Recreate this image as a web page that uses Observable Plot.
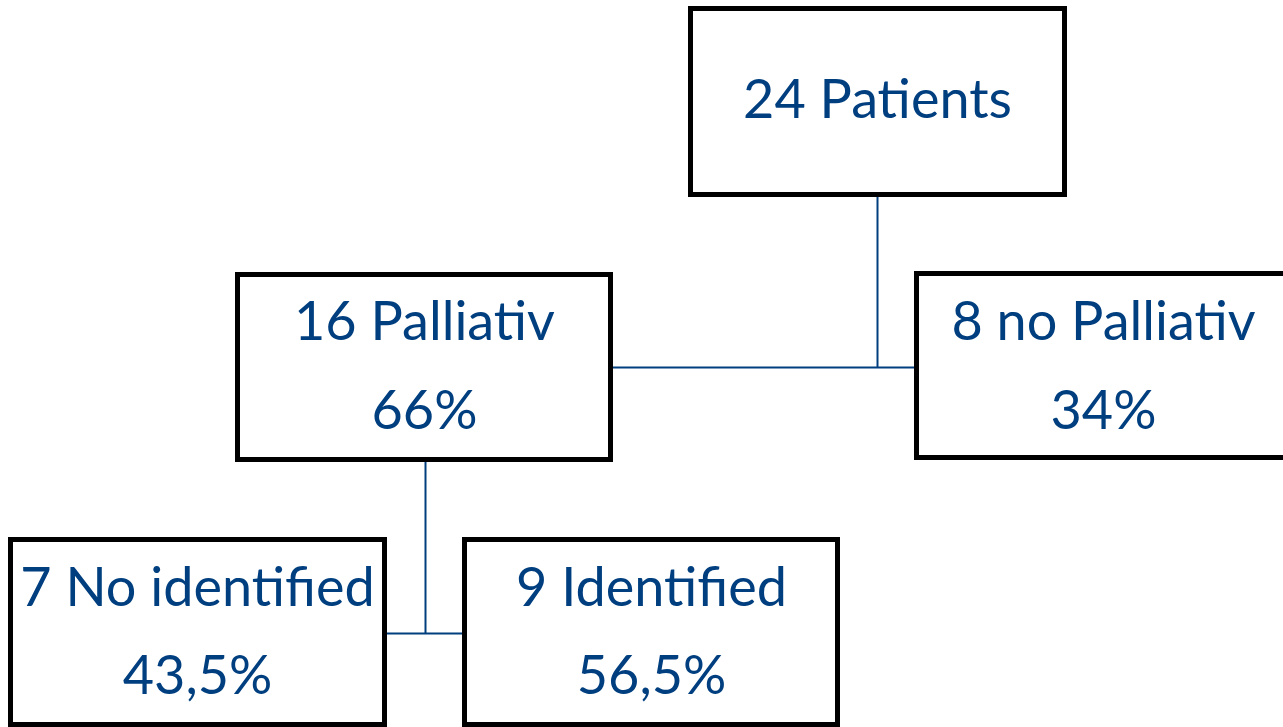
<!DOCTYPE html>
<html>
<head>
<meta charset="utf-8">
<script src="https://cdn.jsdelivr.net/npm/d3@7"></script>
<script src="https://cdn.jsdelivr.net/npm/@observablehq/plot@0.6"></script>
<style>
  html, body { margin: 0; padding: 0; background: #ffffff; overflow: hidden; }
  #chart svg { display: block; }
</style>
</head>
<body>
<div id="chart"></div>
<script>
// ---- Data ----
const nodeCounts   = [24, 16, 8, 7, 9];
const nodeNames    = ["Patients", "Palliativ", "no Palliativ", "No identified", "Identified"];
const nodePercents = ["", "66%", "34%", "43,5%", "56,5%"];
const nodeParents  = [null, 0, 0, 1, 1];

// ---- Layout (chart coordinates) ----
const boxX1 = [690.5, 237.5, 916.5, 10.5, 464.5];
const boxX2 = [1064.5, 610.5, 1292, 384.5, 837.5];
const boxY1 = [8.5, 274.5, 273.5, 539.5, 539.5];
const boxY2 = [194.5, 459.5, 457.5, 724.5, 724.5];
const textX = [877, 424, 1103, 197, 651];
const line1Y = [117, 339, 339, 605, 605];
const line2Y = [null, 428, 428, 693, 693];

const W = 1283, H = 727;
const blue = "#003f7f";

const boxes = nodeCounts.map((c, i) => ({
  x1: boxX1[i], x2: boxX2[i], y1: boxY1[i], y2: boxY2[i]
}));

const texts = [];
nodeCounts.forEach((c, i) => {
  texts.push({x: textX[i], y: line1Y[i], t: `${c} ${nodeNames[i]}`});
  if (nodePercents[i]) texts.push({x: textX[i], y: line2Y[i], t: nodePercents[i]});
});

// connectors: elbow segments
const segs = [
  // root -> level 1
  {x1: 877, y1: 194.5, x2: 877, y2: 367},
  {x1: 610.5, y1: 367, x2: 916.5, y2: 367},
  // Palliativ -> level 2
  {x1: 425, y1: 459.5, x2: 425, y2: 633},
  {x1: 384.5, y1: 633, x2: 464.5, y2: 633}
];

const chart = Plot.plot({
  width: W,
  height: H,
  margin: 0,
  style: {overflow: "hidden", background: "#ffffff"},
  x: {domain: [0, W], range: [0, W], axis: null},
  y: {domain: [0, H], range: [0, H], axis: null},
  marks: [
    Plot.link(segs, {x1: "x1", y1: "y1", x2: "x2", y2: "y2", stroke: blue, strokeWidth: 2}),
    Plot.rect(boxes, {x1: "x1", x2: "x2", y1: "y1", y2: "y2", fill: "white", stroke: "black", strokeWidth: 5}),
    Plot.text(texts, {
      x: "x", y: "y", text: "t",
      fill: blue, fontSize: 54, lineAnchor: "bottom",
      fontFamily: "Lato, 'Open Sans', sans-serif"
    })
  ]
});
document.getElementById("chart").appendChild(chart);
</script>
</body>
</html>
